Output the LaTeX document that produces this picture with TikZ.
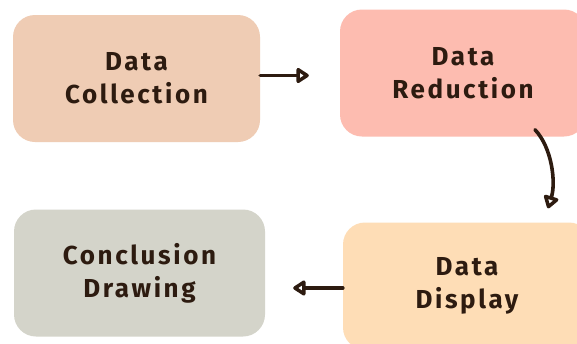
\documentclass[tikz,border=0pt]{standalone}
\usepackage{fontspec}
\setmainfont{Fira Sans}[LetterSpace=10]
\usetikzlibrary{arrows.meta}
\definecolor{peach}{HTML}{EFCCB4}
\definecolor{salmon}{HTML}{FDBCB0}
\definecolor{apricot}{HTML}{FEDDB6}
\definecolor{sage}{HTML}{D4D4CA}
\definecolor{ink}{HTML}{2D1B10}
\begin{document}
\begin{tikzpicture}[x=1pt,y=-1pt]
        % Styles
        \tikzstyle{stage}=[rounded corners=22pt,inner sep=0pt,align=center,text=ink,font=\fontsize{26}{33}\selectfont\bfseries,minimum height=127pt]
        \tikzstyle{flow}=[line width=3.6pt,draw=ink,line cap=round,line join=round,-{Triangle[open,length=14pt,width=17pt,round]}]
        %frame
        \clip (0,0) rectangle (577,343);
        \fill[white] (0,0) rectangle (577,343);
        %stages
        \node[stage,fill=peach,minimum width=247pt] (coll) at (136.5,78.5) {Data\\Collection};
        \node[stage,fill=salmon,minimum width=246pt] (red) at (463,73) {Data\\Reduction};
        \node[stage,fill=apricot,minimum width=248pt] (disp) at (467,286) {Data\\Display};
        \node[stage,fill=sage,minimum width=251pt] (conc) at (139.5,273) {Conclusion\\Drawing};
        %arrows
        \draw[flow] ([yshift=3pt]coll.east) -- ([yshift=3pt]coll.east -| red.west) [shorten >=31pt];
        \draw[flow] ([xshift=72pt,yshift=7pt]red.south) .. controls +(17,18) and +(8,-26) .. ([xshift=81pt,yshift=14pt]disp.north);
        \draw[flow] ([yshift=-2pt]disp.west) -- ([yshift=-2pt]disp.west -| conc.east) [shorten >=28pt];
\end{tikzpicture}
\end{document}
